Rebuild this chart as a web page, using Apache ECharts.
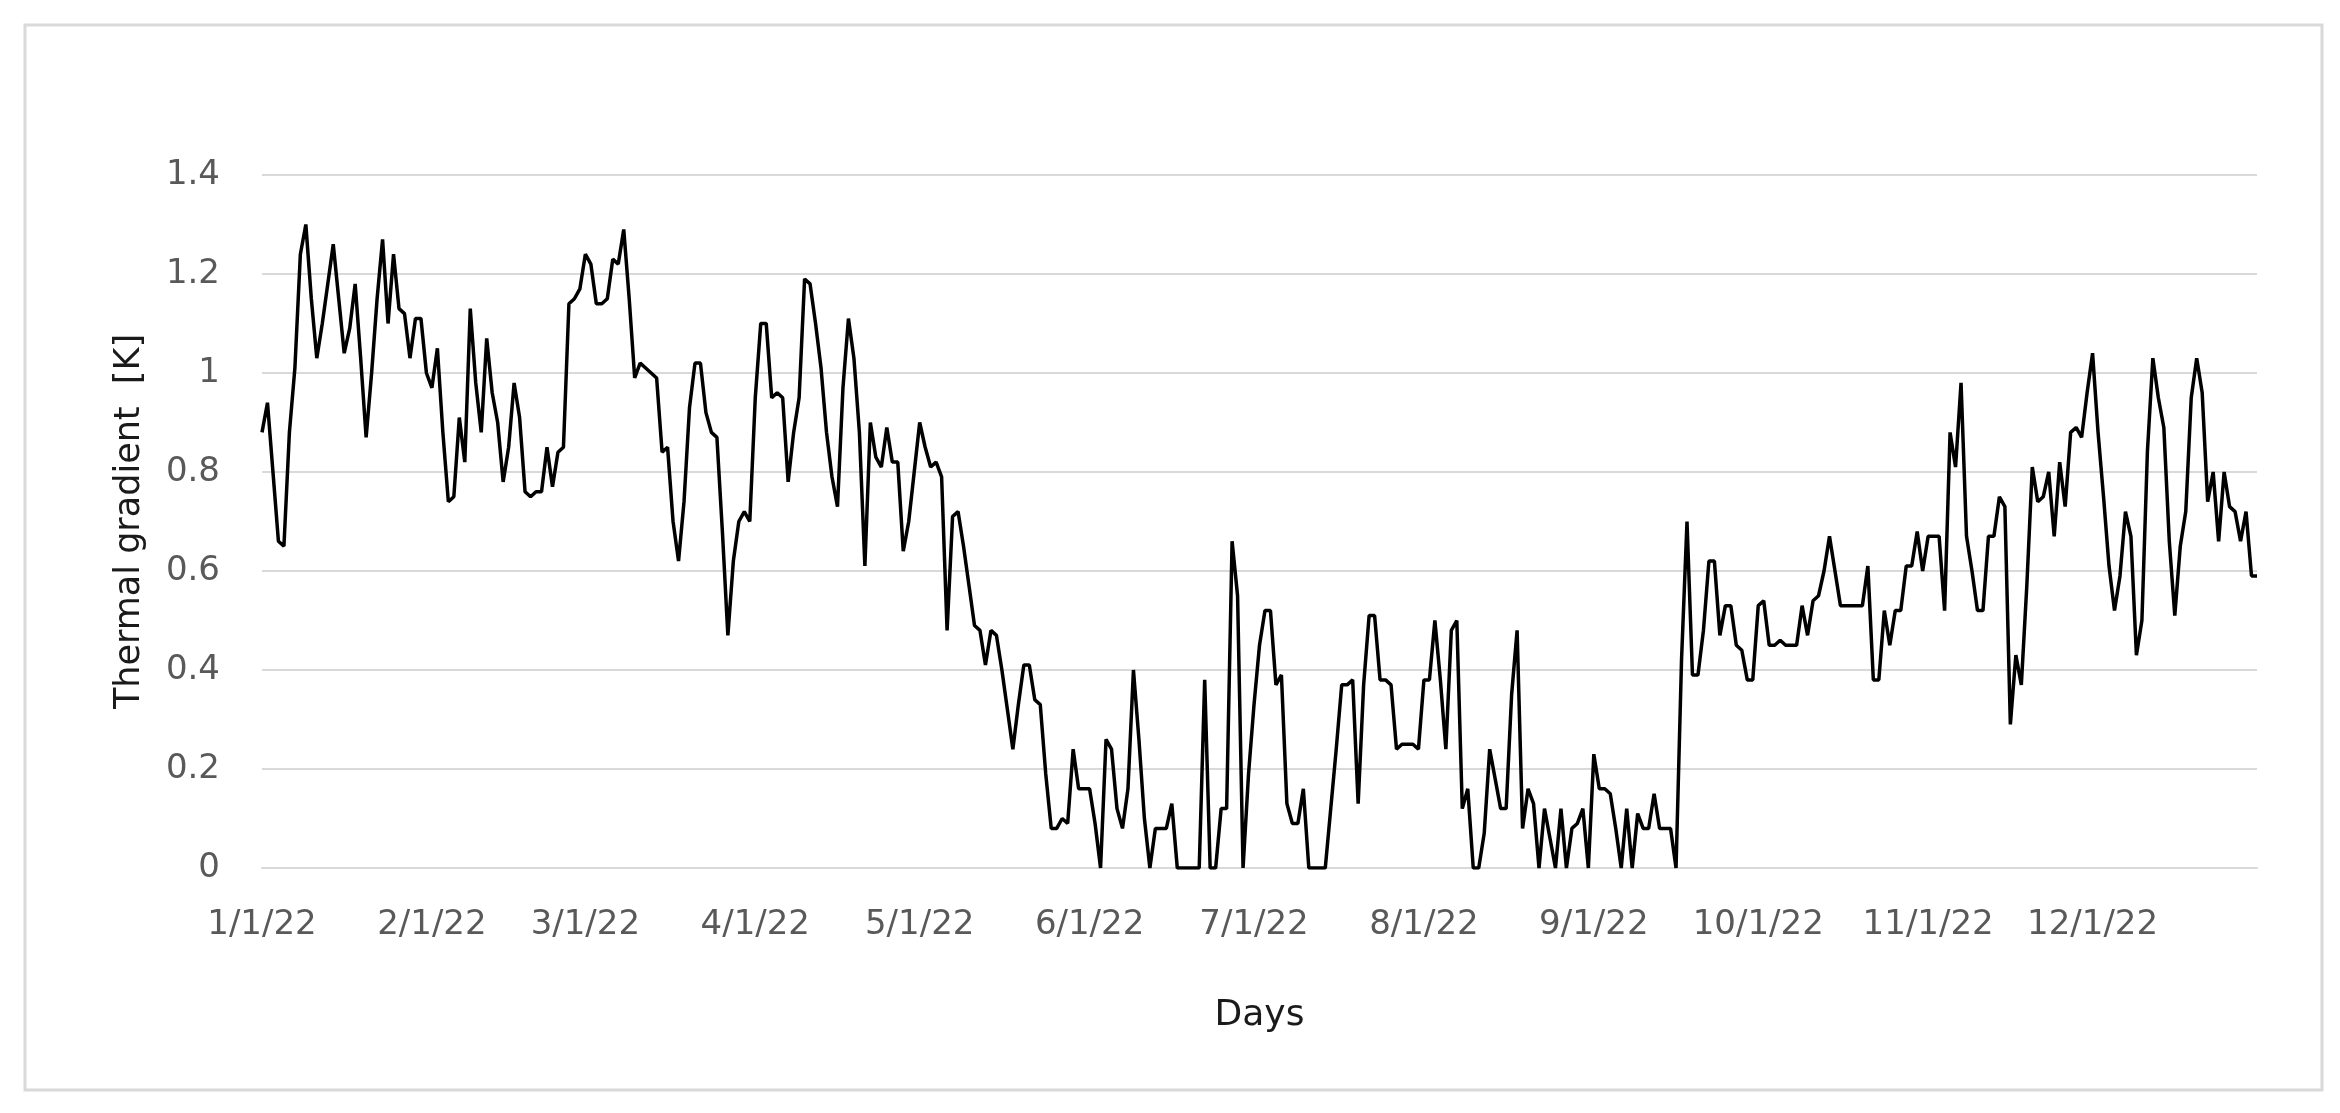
<!DOCTYPE html>
<html>
<head>
<meta charset="utf-8">
<title>Thermal gradient</title>
<script src="https://cdn.jsdelivr.net/npm/echarts@6/dist/echarts.min.js"></script>
<style>
  html, body { margin: 0; padding: 0; background: #fff; }
  #main { width: 2340px; height: 1113px; }
</style>
</head>
<body>
<div id="main"></div>
<script>
// day index of each month start in 2022 and its label
var monthStarts = [0, 31, 59, 90, 120, 151, 181, 212, 243, 273, 304, 334];
var monthLabels = ['1/1/22', '2/1/22', '3/1/22', '4/1/22', '5/1/22', '6/1/22',
                   '7/1/22', '8/1/22', '9/1/22', '10/1/22', '11/1/22', '12/1/22'];
var yTicks = [0, 0.2, 0.4, 0.6, 0.8, 1, 1.2, 1.4];

// daily thermal gradient [K], 1 Jan .. 31 Dec 2022
var gradient = [
  0.88, 0.94, 0.80, 0.66, 0.65, 0.88, 1.01, 1.24, 1.30, 1.15,
  1.03, 1.10, 1.18, 1.26, 1.15, 1.04, 1.09, 1.18, 1.03, 0.87,
  1.00, 1.15, 1.27, 1.10, 1.24, 1.13, 1.12, 1.03, 1.11, 1.11,
  1.00, 0.97, 1.05, 0.88, 0.74, 0.75, 0.91, 0.82, 1.13, 0.98,
  0.88, 1.07, 0.96, 0.90, 0.78, 0.85, 0.98, 0.91, 0.76, 0.75,
  0.76, 0.76, 0.85, 0.77, 0.84, 0.85, 1.14, 1.15, 1.17, 1.24,
  1.22, 1.14, 1.14, 1.15, 1.23, 1.22, 1.29, 1.15, 0.99, 1.02,
  1.01, 1.00, 0.99, 0.84, 0.85, 0.70, 0.62, 0.74, 0.93, 1.02,
  1.02, 0.92, 0.88, 0.87, 0.68, 0.47, 0.62, 0.70, 0.72, 0.70,
  0.95, 1.10, 1.10, 0.95, 0.96, 0.95, 0.78, 0.88, 0.95, 1.19,
  1.18, 1.10, 1.01, 0.88, 0.79, 0.73, 0.97, 1.11, 1.03, 0.88,
  0.61, 0.90, 0.83, 0.81, 0.89, 0.82, 0.82, 0.64, 0.70, 0.80,
  0.90, 0.85, 0.81, 0.82, 0.79, 0.48, 0.71, 0.72, 0.65, 0.57,
  0.49, 0.48, 0.41, 0.48, 0.47, 0.40, 0.32, 0.24, 0.33, 0.41,
  0.41, 0.34, 0.33, 0.19, 0.08, 0.08, 0.10, 0.09, 0.24, 0.16,
  0.16, 0.16, 0.09, 0.00, 0.26, 0.24, 0.12, 0.08, 0.16, 0.40,
  0.26, 0.10, 0.00, 0.08, 0.08, 0.08, 0.13, 0.00, 0.00, 0.00,
  0.00, 0.00, 0.38, 0.00, 0.00, 0.12, 0.12, 0.66, 0.55, 0.00,
  0.19, 0.33, 0.45, 0.52, 0.52, 0.37, 0.39, 0.13, 0.09, 0.09,
  0.16, 0.00, 0.00, 0.00, 0.00, 0.12, 0.24, 0.37, 0.37, 0.38,
  0.13, 0.37, 0.51, 0.51, 0.38, 0.38, 0.37, 0.24, 0.25, 0.25,
  0.25, 0.24, 0.38, 0.38, 0.50, 0.38, 0.24, 0.48, 0.50, 0.12,
  0.16, 0.00, 0.00, 0.07, 0.24, 0.18, 0.12, 0.12, 0.35, 0.48,
  0.08, 0.16, 0.13, 0.00, 0.12, 0.06, 0.00, 0.12, 0.00, 0.08,
  0.09, 0.12, 0.00, 0.23, 0.16, 0.16, 0.15, 0.08, 0.00, 0.12,
  0.00, 0.11, 0.08, 0.08, 0.15, 0.08, 0.08, 0.08, 0.00, 0.42,
  0.70, 0.39, 0.39, 0.48, 0.62, 0.62, 0.47, 0.53, 0.53, 0.45,
  0.44, 0.38, 0.38, 0.53, 0.54, 0.45, 0.45, 0.46, 0.45, 0.45,
  0.45, 0.53, 0.47, 0.54, 0.55, 0.60, 0.67, 0.60, 0.53, 0.53,
  0.53, 0.53, 0.53, 0.61, 0.38, 0.38, 0.52, 0.45, 0.52, 0.52,
  0.61, 0.61, 0.68, 0.60, 0.67, 0.67, 0.67, 0.52, 0.88, 0.81,
  0.98, 0.67, 0.60, 0.52, 0.52, 0.67, 0.67, 0.75, 0.73, 0.29,
  0.43, 0.37, 0.57, 0.81, 0.74, 0.75, 0.80, 0.67, 0.82, 0.73,
  0.88, 0.89, 0.87, 0.96, 1.04, 0.88, 0.75, 0.61, 0.52, 0.59,
  0.72, 0.67, 0.43, 0.50, 0.84, 1.03, 0.95, 0.89, 0.66, 0.51,
  0.65, 0.72, 0.95, 1.03, 0.96, 0.74, 0.80, 0.66, 0.80, 0.73,
  0.72, 0.66, 0.72, 0.59, 0.59
];

var FONT = 'DejaVu Sans';
var chart = echarts.init(document.getElementById('main'));

// [day, value] pairs for the line
var points = gradient.map(function (v, i) { return [i, v]; });

var option = {
  backgroundColor: '#ffffff',
  animation: false,
  grid: { left: 262, right: 83, top: 175, bottom: 245 },
  graphic: [{
    type: 'rect',
    shape: { x: 25, y: 25, width: 2297, height: 1065 },
    style: { fill: 'none', stroke: '#d9d9d9', lineWidth: 3 },
    silent: true
  }],
  xAxis: {
    type: 'value',
    min: 0,
    max: gradient.length - 1,
    name: 'Days',
    nameLocation: 'middle',
    nameGap: 130,
    nameTextStyle: { fontFamily: FONT, fontSize: 36, color: '#1a1a1a' },
    axisLine: { show: true, lineStyle: { color: '#d9d9d9', width: 2 } },
    axisTick: { show: false },
    splitLine: { show: false },
    axisLabel: {
      customValues: monthStarts,
      margin: 40,
      fontFamily: FONT,
      fontSize: 34,
      color: '#595959',
      formatter: function (val) {
        var k = monthStarts.indexOf(Math.round(val));
        return k >= 0 ? monthLabels[k] : '';
      }
    }
  },
  yAxis: {
    type: 'value',
    min: yTicks[0],
    max: yTicks[yTicks.length - 1],
    interval: 0.2,
    name: 'Thermal gradient  [K]',
    nameLocation: 'middle',
    nameGap: 115,
    nameTextStyle: { fontFamily: FONT, fontSize: 35, color: '#1a1a1a' },
    axisLine: { show: false },
    axisTick: { show: false },
    splitLine: { lineStyle: { color: '#d9d9d9', width: 2 } },
    axisLabel: {
      margin: 42,
      fontFamily: FONT,
      fontSize: 34,
      color: '#595959'
    }
  },
  series: [{
    name: 'Thermal gradient',
    type: 'line',
    data: points,
    showSymbol: false,
    lineStyle: { color: '#000000', width: 3.5 },
    emphasis: { disabled: true }
  }]
};

chart.setOption(option);
</script>
</body>
</html>
